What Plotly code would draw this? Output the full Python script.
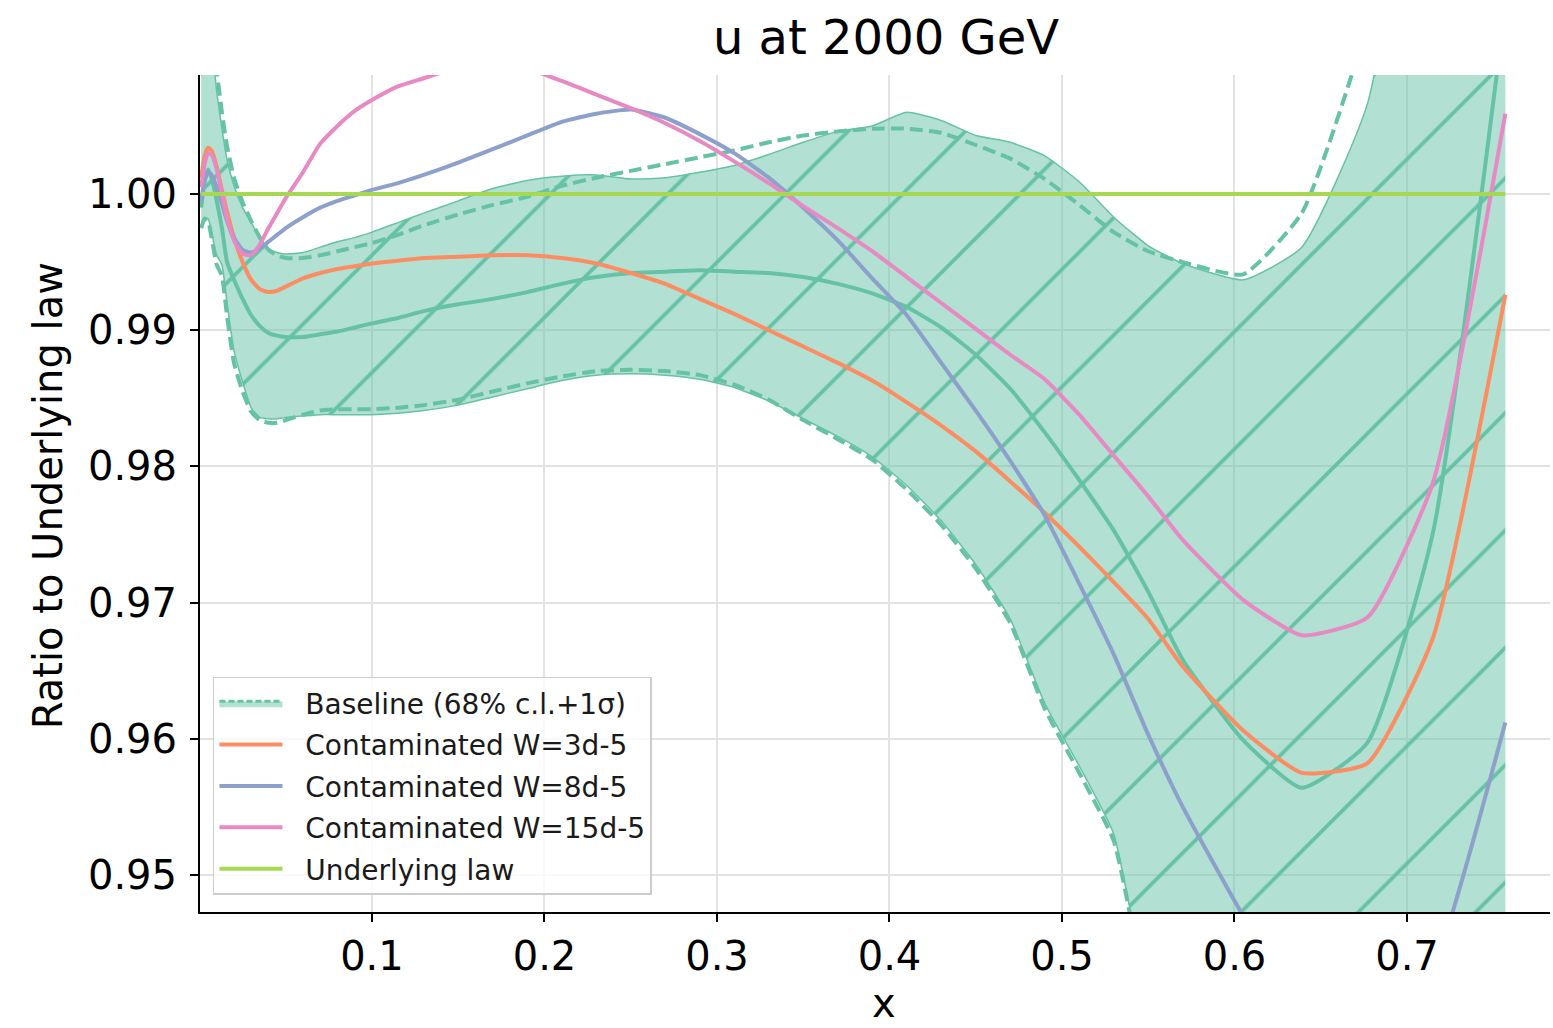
import plotly.graph_objects as go

# ---------------- data ----------------
x = [0.001, 0.003, 0.005, 0.007, 0.01, 0.013, 0.016, 0.02, 0.025, 0.03,
     0.035, 0.04, 0.045, 0.05, 0.06, 0.07, 0.08, 0.09, 0.1, 0.115,
     0.13, 0.15, 0.17, 0.19, 0.21, 0.23, 0.25, 0.27, 0.29, 0.31,
     0.33, 0.35, 0.37, 0.39, 0.41, 0.43, 0.45, 0.47, 0.49, 0.51,
     0.53, 0.55, 0.570, 0.605, 0.639, 0.677, 0.715, 0.757]

band_upper = [1.0090, 1.0110, 1.0120, 1.0110, 1.0075, 1.0048, 1.0025, 1.0006, 0.9990, 0.9979,
              0.9968, 0.9960, 0.9957, 0.9956, 0.9957, 0.9961, 0.9965, 0.9968, 0.9972, 0.9979,
              0.9986, 0.9995, 1.0004, 1.0010, 1.0013, 1.0014, 1.0011, 1.0012, 1.0016, 1.0021,
              1.0029, 1.0038, 1.0046, 1.0050, 1.0060, 1.0054, 1.0043, 1.0038, 1.0028, 1.0009,
              0.9983, 0.9962, 0.9949, 0.9937, 0.9961, 1.0066, 1.0350, 1.0600]

band_lower = [0.9975, 0.9982, 0.9982, 0.9972, 0.9955, 0.9948, 0.9920, 0.9885, 0.9862, 0.9843,
              0.9836, 0.9835, 0.9835, 0.9836, 0.9837, 0.9838, 0.9838, 0.9838, 0.9838, 0.9839,
              0.9841, 0.9845, 0.9851, 0.9857, 0.9863, 0.9867, 0.9868, 0.9867, 0.9864, 0.9858,
              0.9848, 0.9835, 0.9822, 0.9807, 0.9786, 0.9760, 0.9728, 0.9688, 0.9626, 0.9580,
              0.9530, 0.9410, 0.9350, 0.9200, 0.9050, 0.8900, 0.8750, 0.8600]

cl68_upper = [1.0090, 1.0110, 1.0120, 1.0115, 1.0090, 1.0060, 1.0035, 1.0012, 0.9994, 0.9980,
              0.9968, 0.9959, 0.9955, 0.9953, 0.9953, 0.9955, 0.9958, 0.9961, 0.9964, 0.9970,
              0.9977, 0.9985, 0.9992, 0.9998, 1.0006, 1.0012, 1.0017, 1.0022, 1.0027, 1.0032,
              1.0038, 1.0043, 1.0046, 1.0048, 1.0048, 1.0045, 1.0036, 1.0026, 1.0011, 0.9992,
              0.9972, 0.9958, 0.9950, 0.9941, 0.9986, 1.0125, 1.0350, 1.0600]

cl68_lower = [0.9975, 0.9982, 0.9980, 0.9968, 0.9948, 0.9940, 0.9910, 0.9876, 0.9855, 0.9840,
              0.9834, 0.9832, 0.9832, 0.9834, 0.9838, 0.9841, 0.9842, 0.9842, 0.9842, 0.9843,
              0.9845, 0.9849, 0.9855, 0.9861, 0.9866, 0.9870, 0.9871, 0.9870, 0.9867, 0.9860,
              0.9849, 0.9834, 0.9820, 0.9805, 0.9783, 0.9757, 0.9725, 0.9685, 0.9622, 0.9575,
              0.9525, 0.9405, 0.9320, 0.9180, 0.9030, 0.8880, 0.8730, 0.8580]

baseline_central = [0.9990, 1.0010, 1.0018, 1.0012, 0.9995, 0.9975, 0.9950, 0.9937, 0.9923, 0.9911,
                    0.9903, 0.9898, 0.9896, 0.9895, 0.9895, 0.9897, 0.9899, 0.9902, 0.9905, 0.9909,
                    0.9914, 0.9919, 0.9923, 0.9928, 0.9934, 0.9939, 0.9942, 0.9943, 0.9944, 0.9943,
                    0.9942, 0.9939, 0.9934, 0.9927, 0.9917, 0.9902, 0.9882, 0.9857, 0.9825, 0.9790,
                    0.9753, 0.9708, 0.9658, 0.9599, 0.9564, 0.9597, 0.9751, 1.0138]

w3 = [1.0012, 1.0028, 1.0034, 1.0032, 1.0020, 1.0003, 0.9987, 0.9968, 0.9950, 0.9937,
      0.9930, 0.9928, 0.9929, 0.9932, 0.9938, 0.9942, 0.9945, 0.9947, 0.9949, 0.9951,
      0.9953, 0.9954, 0.9955, 0.9955, 0.9953, 0.9949, 0.9942, 0.9934, 0.9923, 0.9912,
      0.9900, 0.9888, 0.9876, 0.9863, 0.9847, 0.9830, 0.9811, 0.9789, 0.9766, 0.9741,
      0.9715, 0.9688, 0.9653, 0.9606, 0.9575, 0.9582, 0.9674, 0.9926]

w8 = [0.9995, 1.0010, 1.0016, 1.0014, 1.0005, 0.9993, 0.9980, 0.9968, 0.9959, 0.9957,
      0.9960, 0.9965, 0.9970, 0.9975, 0.9983, 0.9990, 0.9995, 0.9999, 1.0003, 1.0008,
      1.0014, 1.0023, 1.0033, 1.0043, 1.0053, 1.0059, 1.0062, 1.0056, 1.0044, 1.0030,
      1.0012, 0.9990, 0.9966, 0.9938, 0.9911, 0.9876, 0.9841, 0.9804, 0.9764, 0.9714,
      0.9662, 0.9603, 0.9550, 0.9470, 0.9400, 0.9360, 0.9430, 0.9612]

w15 = [1.0005, 1.0022, 1.0030, 1.0029, 1.0018, 1.0000, 0.9982, 0.9966, 0.9956, 0.9955,
       0.9963, 0.9975, 0.9986, 0.9997, 1.0016, 1.0037, 1.0050, 1.0061, 1.0069, 1.0079,
       1.0085, 1.0093, 1.0096, 1.0092, 1.0083, 1.0073, 1.0063, 1.0052, 1.0039, 1.0024,
       1.0008, 0.9991, 0.9975, 0.9958, 0.9939, 0.9920, 0.9901, 0.9882, 0.9864, 0.9838,
       0.9808, 0.9778, 0.9746, 0.9702, 0.9676, 0.9689, 0.9788, 1.0059]

underlying = [1.0] * len(x)

x_ticks = [0.1, 0.2, 0.3, 0.4, 0.5, 0.6, 0.7]
y_ticks = [0.95, 0.96, 0.97, 0.98, 0.99, 1.00]
y_tick_labels = ["0.95", "0.96", "0.97", "0.98", "0.99", "1.00"]

labels = ["Baseline (68% c.l.+1σ)", "Contaminated W=3d-5", "Contaminated W=8d-5",
          "Contaminated W=15d-5", "Underlying law"]

# ---------------- style ----------------
TEAL = "#66c2a5"
ORANGE = "#fc8d62"
BLUE = "#8da0cb"
PINK = "#e78ac3"
LIME = "#a6d854"
FILL = "rgba(102,194,165,0.5)"
FONT = "DejaVu Sans"
SM = 0.5   # light spline smoothing
PAD = "\u00a0\u00a0"

fig = go.Figure()

# band (68% c.l. + 1 sigma): lower edge, then upper edge filled to it with hatch
fig.add_trace(go.Scatter(x=x, y=band_lower, mode="lines",
                         line=dict(color=TEAL, width=1.5, shape="spline", smoothing=SM),
                         showlegend=False, hoverinfo="skip"))
fig.add_trace(go.Scatter(x=x, y=band_upper, mode="lines", fill="tonexty",
                         fillcolor=FILL,
                         fillpattern=dict(shape="/", size=83, solidity=0.045,
                                          fgcolor=TEAL, bgcolor=FILL, fgopacity=1),
                         line=dict(color=TEAL, width=1.5, shape="spline", smoothing=SM),
                         showlegend=False, hoverinfo="skip"))
# 68% c.l. dashed edges
for ys in (cl68_lower, cl68_upper):
    fig.add_trace(go.Scatter(x=x, y=ys, mode="lines",
                             line=dict(color=TEAL, width=4, dash="13px,6px",
                                       shape="spline", smoothing=SM),
                             showlegend=False, hoverinfo="skip"))
# central value
fig.add_trace(go.Scatter(x=x, y=baseline_central, mode="lines",
                         line=dict(color=TEAL, width=4, shape="spline", smoothing=SM),
                         showlegend=False))

# legend proxy for the baseline band
fig.add_trace(go.Scatter(x=[None], y=[None], mode="lines", fill="toself",
                         fillcolor=FILL, name=PAD + labels[0], legendgroup="g0",
                         line=dict(color=TEAL, width=3, dash="6px,3px")))

for ys, col, name, g in ((w3, ORANGE, labels[1], "g1"), (w8, BLUE, labels[2], "g2"),
                         (w15, PINK, labels[3], "g3"), (underlying, LIME, labels[4], "g4")):
    fig.add_trace(go.Scatter(x=x, y=ys, mode="lines", name=PAD + name, legendgroup=g,
                             line=dict(color=col, width=4, shape="spline", smoothing=SM)))

axis_common = dict(showline=True, linecolor="black", linewidth=2, mirror=False,
                   ticks="outside", ticklen=8, tickwidth=2, tickcolor="black",
                   showgrid=True, gridcolor="#e3e3e3", gridwidth=1.5, zeroline=False,
                   tickfont=dict(family=FONT, size=40, color="black"))

fig.update_xaxes(range=[0.0003, 0.7829], tickvals=x_ticks,
                 ticktext=[f"{v:.1f}" for v in x_ticks], ticklabelstandoff=0,
                 **axis_common)
fig.update_yaxes(range=[0.94728, 1.00874], tickvals=y_ticks, ticktext=y_tick_labels,
                 ticklabelstandoff=5, **axis_common)

fig.update_layout(
    width=1553, height=1028,
    margin=dict(l=200, r=3, t=75, b=116),
    paper_bgcolor="white", plot_bgcolor="white",
    font=dict(family=FONT, color="black"),
    title=dict(text="u at 2000 GeV", font=dict(family=FONT, size=48, color="black"),
               x=0.5705, xanchor="center", y=1 - 37 / 1028, yanchor="middle"),
    showlegend=True,
    legend=dict(x=0.0096, y=0.2808, xanchor="left", yanchor="top",
                bgcolor="rgba(255,255,255,0.8)", bordercolor="#cccccc", borderwidth=1.5,
                font=dict(family=FONT, size=28, color="#1a1a1a"),
                traceorder="grouped", tracegroupgap=2, itemwidth=63),
    annotations=[
        dict(text="x", xref="paper", yref="paper", x=0.5067, y=-0.1087,
             showarrow=False, xanchor="center", yanchor="middle",
             font=dict(family=FONT, size=40, color="black")),
        dict(text="Ratio to Underlying law", xref="paper", yref="paper",
             x=-0.1126, y=0.498, showarrow=False, textangle=-90,
             xanchor="center", yanchor="middle",
             font=dict(family=FONT, size=40, color="black")),
    ],
)

fig.write_html("out.html")
